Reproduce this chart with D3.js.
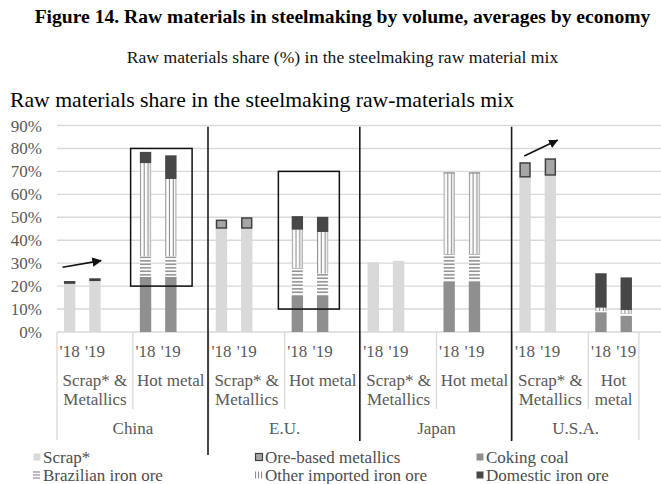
<!DOCTYPE html>
<html>
<head>
<meta charset="utf-8">
<script src="https://cdn.jsdelivr.net/npm/d3@7/dist/d3.min.js"></script>
<style>
  body { margin: 0; background: #fff; }
  svg { display: block; }
  text { font-family: "Liberation Serif", "Times New Roman", serif; }
</style>
</head>
<body>
<svg id="chart" width="661" height="484" font-family="Liberation Serif, Times New Roman, serif"></svg>
<script>
// ---- data -------------------------------------------------------------
const countries = ["China", "E.U.", "Japan", "U.S.A."];
const routes = ["Scrap* & Metallics", "Hot metal"];
const years = ["'18", "'19"];
const yTicks = [0, 10, 20, 30, 40, 50, 60, 70, 80, 90];

const seriesKeys = ["scrap", "obm", "coking", "brazil", "otherImp", "domestic"];
const seriesNames = ["Scrap*", "Ore-based metallics", "Coking coal",
                     "Brazilian iron ore", "Other imported iron ore", "Domestic iron ore"];

// shares in %, one entry per bar: country -> route -> year
const scrap    = [21.0, 22.2,  0,    0,     45.0, 45.0,  0,    0,     30.4, 31.0,  0,    0,     67.3, 68.1,  0,    0];
const obm      = [ 1.2,  1.2,  0,    0,      4.0,  5.0,  0,    0,      0,    0,    0,    0,      6.7,  7.6,  0,    0];
const coking   = [ 0,    0,   24.0, 24.0,    0,    0,   16.0, 16.0,    0,    0,   22.0, 22.0,    0,    0,    8.6,  7.1];
const brazil   = [ 0,    0,    9.0,  9.0,    0,    0,   12.0,  9.5,    0,    0,   12.0, 12.0,    0,    0,    0.5,  1.0];
const otherImp = [ 0,    0,   40.6, 33.7,    0,    0,   16.6, 18.1,    0,    0,   35.2, 35.2,    0,    0,    1.5,  1.5];
const domestic = [ 0,    0,    4.9, 10.3,    0,    0,    5.9,  6.6,    0,    0,    0.3,  0.3,    0,    0,   15.0, 14.2];

// ---- layout -------------------------------------------------------------
const W = 661, H = 484;
const plot = { left: 57, top: 125.5, bottom: 332 };
const slotW = 25.3;                       // one category slot
const slotsPerRoute = 3;                  // '18, '19, spacer
const nSlots = countries.length * routes.length * slotsPerRoute;

const svg = d3.select("#chart");
svg.append("rect").attr("width", W).attr("height", H).attr("fill", "#fff");

// category slots: every route gets '18, '19 and one empty spacer slot
const slots = [];
countries.forEach(c => routes.forEach(r => {
  years.forEach(yv => slots.push(`${c}|${r}|${yv}`));
  slots.push(`${c}|${r}|gap`);
}));

const x = d3.scaleBand().domain(slots)
  .range([plot.left, plot.left + nSlots * slotW])
  .paddingInner(0.55).paddingOuter(0.275);
const sx = d3.scaleLinear().domain([0, nSlots]).range([plot.left, plot.left + nSlots * slotW]);
const y = d3.scaleLinear().domain([0, 90]).range([plot.bottom, plot.top]);

// rows of the stack
const rows = [];
let i = 0;
countries.forEach(c => routes.forEach(r => years.forEach(yv => {
  const row = { key: `${c}|${r}|${yv}` };
  row.scrap = scrap[i]; row.obm = obm[i]; row.coking = coking[i];
  row.brazil = brazil[i]; row.otherImp = otherImp[i]; row.domestic = domestic[i];
  rows.push(row); i++;
})));
const stacked = d3.stack().keys(seriesKeys)(rows);

// ---- patterns -----------------------------------------------------------
const defs = svg.append("defs");
const bw = x.bandwidth();
const x0 = x(slots[0]);

const pBr = defs.append("pattern").attr("id", "pat-brazil")
  .attr("patternUnits", "userSpaceOnUse")
  .attr("x", x0).attr("y", 0).attr("width", x.step()).attr("height", 3.5);
pBr.append("rect").attr("width", x.step()).attr("height", 3.5).attr("fill", "#fff");
pBr.append("rect").attr("x", 0).attr("y", 1).attr("width", bw).attr("height", 1.6).attr("fill", "#8f8f8f");

const pOt = defs.append("pattern").attr("id", "pat-other")
  .attr("patternUnits", "userSpaceOnUse")
  .attr("x", x0).attr("y", 0).attr("width", x.step()).attr("height", 4);
pOt.append("rect").attr("width", x.step()).attr("height", 4).attr("fill", "#fff");
[0, bw / 3, 2 * bw / 3, bw - 1.1].forEach(px =>
  pOt.append("rect").attr("x", px).attr("y", 0).attr("width", 1.1).attr("height", 4).attr("fill", "#8a8a8a"));

const fills = {
  scrap: "#d9d9d9", obm: "#a6a6a6", coking: "#8f8f8f",
  brazil: "url(#pat-brazil)", otherImp: "url(#pat-other)", domestic: "#474747"
};

// ---- gridlines ----------------------------------------------------------
svg.append("g").selectAll("line").data(yTicks).join("line")
  .attr("x1", plot.left).attr("x2", W)
  .attr("y1", d => y(d)).attr("y2", d => y(d))
  .attr("stroke", "#d9d9d9").attr("stroke-width", 1.4);

svg.append("g").selectAll("text").data(yTicks).join("text")
  .attr("x", 42).attr("y", d => y(d) + 6)
  .attr("text-anchor", "end").attr("font-size", 17).attr("fill", "#595959")
  .text(d => d + "%");

// ---- bars ---------------------------------------------------------------
const barG = svg.append("g");
stacked.forEach(layer => {
  const key = layer.key;
  barG.append("g").selectAll("rect")
    .data(layer.filter(d => d[1] - d[0] > 0))
    .join("rect")
    .attr("x", d => x(d.data.key) + (key === "obm" ? 0.75 : 0))
    .attr("width", bw - (key === "obm" ? 1.5 : 0))
    .attr("y", d => y(d[1]) + (key === "obm" ? 0.75 : 0))
    .attr("height", d => Math.max(0.8, y(d[0]) - y(d[1]) - (key === "obm" ? 1.5 : 0)))
    .attr("fill", fills[key])
    .attr("stroke", key === "obm" ? "#404040" : "none")
    .attr("stroke-width", 1.5);
});

// ---- category axis ------------------------------------------------------
const axisG = svg.append("g");
const lastLabelSlot = nSlots - 1;   // trailing spacer carries no label
// year labels
rows.forEach(r => {
  axisG.append("text")
    .attr("x", x(r.key) + bw / 2).attr("y", 357)
    .attr("text-anchor", "middle").attr("font-size", 17).attr("fill", "#595959")
    .text(r.key.split("|")[2]);
});

function wrapLines(txt, maxW) {
  const probe = axisG.append("text").attr("font-size", 17);
  const words = txt.split(" ");
  const lines = [];
  let cur = "";
  words.forEach(w => {
    const t = cur ? cur + " " + w : w;
    probe.text(t);
    if (probe.node().getComputedTextLength() > maxW && cur) { lines.push(cur); cur = w; }
    else cur = t;
  });
  lines.push(cur);
  probe.remove();
  return lines;
}

countries.forEach((c, ci) => {
  routes.forEach((r, ri) => {
    const s0 = (ci * routes.length + ri) * slotsPerRoute;
    const s1 = Math.min(s0 + slotsPerRoute, lastLabelSlot);
    const xa = sx(s0), xb = sx(s1);
    const lines = wrapLines(r, xb - xa - 4);
    lines.forEach((ln, li) => {
      axisG.append("text")
        .attr("x", (xa + xb) / 2).attr("y", 386 + li * 19)
        .attr("text-anchor", "middle").attr("font-size", 17).attr("fill", "#595959")
        .text(ln);
    });
    // divider at the left of each route cell
    axisG.append("line")
      .attr("x1", xa).attr("x2", xa).attr("y1", plot.bottom)
      .attr("y2", ri === 0 ? 440 : 409)
      .attr("stroke", "#d9d9d9").attr("stroke-width", 1.3);
  });
  const g0 = ci * routes.length * slotsPerRoute;
  const g1 = Math.min(g0 + routes.length * slotsPerRoute, lastLabelSlot);
  axisG.append("text")
    .attr("x", (sx(g0) + sx(g1)) / 2).attr("y", 434)
    .attr("text-anchor", "middle").attr("font-size", 17).attr("fill", "#595959")
    .text(c);
});
axisG.append("line")
  .attr("x1", sx(lastLabelSlot)).attr("x2", sx(lastLabelSlot))
  .attr("y1", plot.bottom).attr("y2", 440)
  .attr("stroke", "#d9d9d9").attr("stroke-width", 1.3);

// ---- annotations --------------------------------------------------------
const ann = svg.append("g");
// economy separators
[6, 12, 18].forEach((s, k) => {
  ann.append("line")
    .attr("x1", sx(s) - 0.8).attr("x2", sx(s) - 0.8)
    .attr("y1", y(89.5)).attr("y2", k === 0 ? 455 : 441)
    .attr("stroke", "#1a1a1a").attr("stroke-width", 1.6);
});
// frames around the hot-metal iron ore mix
[{ s0: 2.91, s1: 5.34, v0: 20, v1: 80 }, { s0: 8.75, s1: 11.16, v0: 10, v1: 70 }]
  .forEach(b => {
    ann.append("rect")
      .attr("x", sx(b.s0)).attr("y", y(b.v1))
      .attr("width", sx(b.s1) - sx(b.s0)).attr("height", y(b.v0) - y(b.v1))
      .attr("fill", "none").attr("stroke", "#111").attr("stroke-width", 1.5);
  });
// trend arrows
defs.append("marker").attr("id", "arrowhead")
  .attr("viewBox", "0 0 10 10").attr("refX", 9).attr("refY", 5)
  .attr("markerWidth", 6).attr("markerHeight", 6).attr("orient", "auto")
  .attr("markerUnits", "strokeWidth")
  .append("path").attr("d", "M0,0 L10,5 L0,10 Z").attr("fill", "#111");
[{ s0: 0.22, v0: 28.2, s1: 1.74, v1: 31.1 }, { s0: 18.47, v0: 76.7, s1: 19.79, v1: 83.7 }]
  .forEach(a => {
    ann.append("line")
      .attr("x1", sx(a.s0)).attr("y1", y(a.v0))
      .attr("x2", sx(a.s1)).attr("y2", y(a.v1))
      .attr("stroke", "#111").attr("stroke-width", 1.6)
      .attr("marker-end", "url(#arrowhead)");
  });

// ---- titles -------------------------------------------------------------
svg.append("text").attr("x", 342.5).attr("y", 23)
  .attr("text-anchor", "middle").attr("font-size", 19.6).attr("font-weight", "bold")
  .attr("fill", "#000")
  .text("Figure 14. Raw materials in steelmaking by volume, averages by economy");
svg.append("text").attr("x", 342.5).attr("y", 63)
  .attr("text-anchor", "middle").attr("font-size", 17.6).attr("fill", "#111")
  .text("Raw materials share (%) in the steelmaking raw material mix");
svg.append("text").attr("x", 10).attr("y", 107)
  .attr("font-size", 21.7).attr("fill", "#000")
  .text("Raw materials share in the steelmaking raw-materials mix");

// ---- legend -------------------------------------------------------------
const legCols = [33, 255, 476];
const legRows = [457, 475];
const leg = svg.append("g");
seriesKeys.forEach((k, idx) => {
  const lx = legCols[idx % 3], ly = legRows[Math.floor(idx / 3)];
  const g = leg.append("g").attr("transform", `translate(${lx},${ly})`);
  if (k === "brazil") {
    [-3, 0, 3].forEach(dy => g.append("rect").attr("x", 0).attr("y", dy - 0.6)
      .attr("width", 7).attr("height", 1.2).attr("fill", "#8f8f8f"));
  } else if (k === "otherImp") {
    [0, 3, 6].forEach(dx => g.append("rect").attr("x", dx).attr("y", -3.5)
      .attr("width", 1.1).attr("height", 7).attr("fill", "#8a8a8a"));
  } else {
    g.append("rect").attr("x", 0.5).attr("y", -3.5).attr("width", 7).attr("height", 7)
      .attr("fill", fills[k])
      .attr("stroke", k === "obm" ? "#404040" : "none").attr("stroke-width", 1.2);
  }
  g.append("text").attr("x", 10).attr("y", 5.5)
    .attr("font-size", 17).attr("fill", "#4d4d4d")
    .text(seriesNames[idx]);
});
</script>
</body>
</html>
